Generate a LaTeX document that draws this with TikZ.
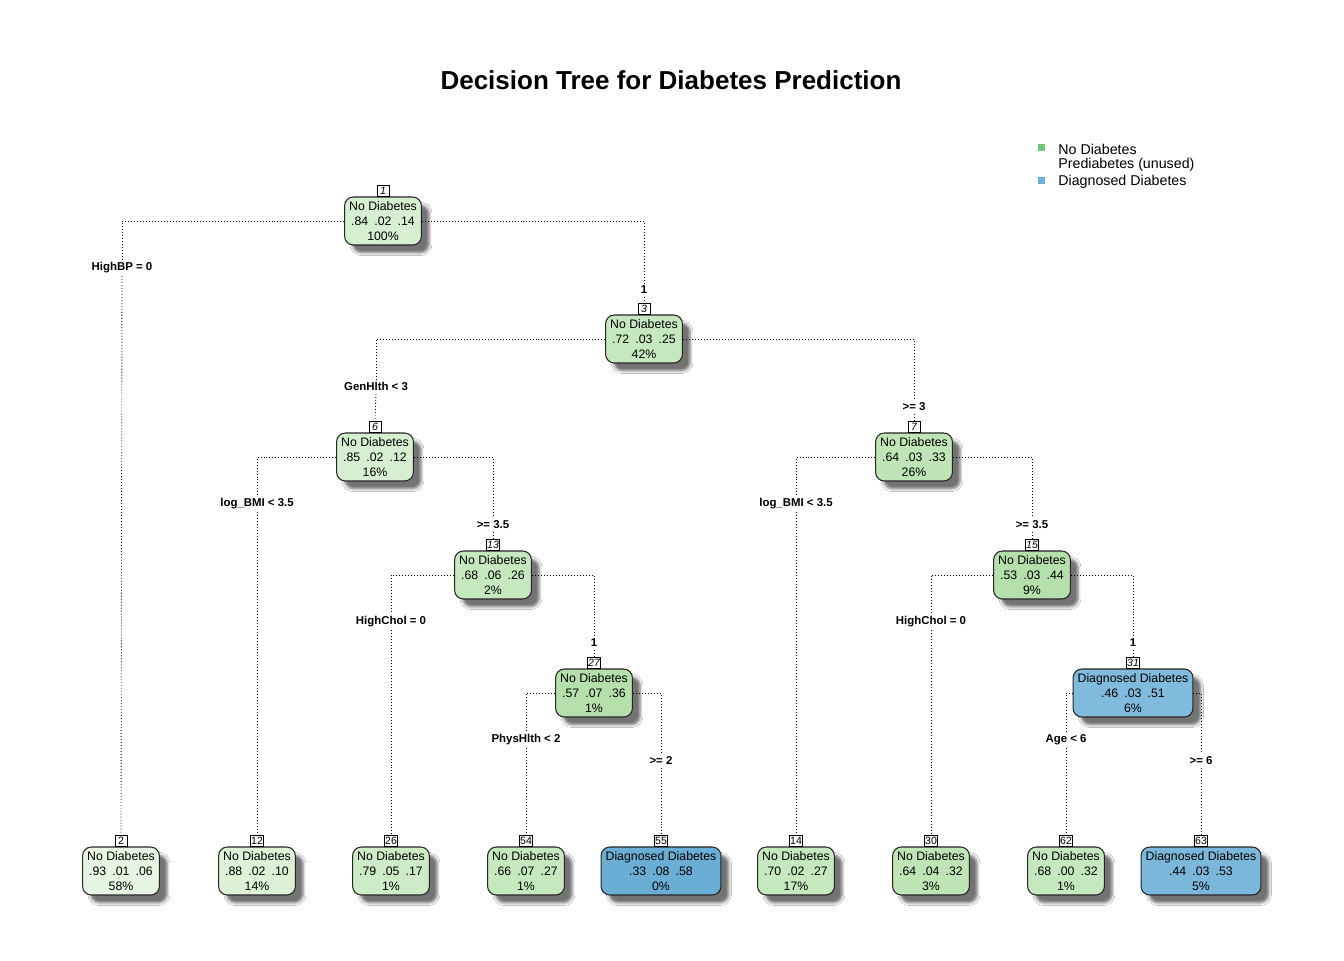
\documentclass[tikz,border=0pt]{standalone}
\usepackage{fontspec}
\setmainfont{Liberation Sans}
\usepackage{tikz}
\usetikzlibrary{positioning,shadows.blur}
\definecolor{gA}{HTML}{E6F5E1}
\definecolor{gB}{HTML}{DCF1D6}
\definecolor{gC}{HTML}{D6EFD0}
\definecolor{gD}{HTML}{CEEBC7}
\definecolor{gE}{HTML}{C6E8BE}
\definecolor{gF}{HTML}{BFE5B6}
\definecolor{gG}{HTML}{B5DFAB}
\definecolor{bA}{HTML}{6AAED6}
\definecolor{bB}{HTML}{80BADD}
\definecolor{bC}{HTML}{7BB7DB}
\definecolor{legGreen}{HTML}{74C476}
\definecolor{legBlue}{HTML}{6BAED6}
\tikzset{
  nd/.style={draw=black!85, line width=0.6pt, rounded corners=5pt, minimum height=0.96cm,
             inner xsep=2.6pt, inner ysep=1pt, align=center, font=\fontsize{7}{8.4}\selectfont,
             blur shadow={shadow xshift=4.5pt, shadow yshift=-4.5pt, shadow blur radius=1.5pt,
                          shadow opacity=55}},
  idx/.style={draw=black, fill=white, line width=0.5pt, inner sep=0.6pt, minimum width=0.24cm,
              minimum height=0.22cm, font=\fontsize{6}{6}\selectfont},
  lab/.style={inner sep=1.5pt, yshift=-1pt, font=\fontsize{6.5}{7}\selectfont\bfseries},
  edge/.style={line width=0.5pt, dash pattern=on 0.5pt off 1.2pt},
  legtxt/.style={anchor=west, inner sep=0pt, font=\fontsize{8.1}{9}\selectfont},
  legsq/.style={minimum size=0.14cm, inner sep=0pt}
}
\newcommand{\probs}[3]{#1\enspace#2\enspace#3}
\begin{document}
\begin{tikzpicture}[x=0.02cm, y=-0.02cm]
  \useasboundingbox[fill=white] (0,0) rectangle (1344,960);
  \node[font=\fontsize{14.8}{16}\selectfont\bfseries] (title) at (671,80)
    {Decision Tree for Diabetes Prediction};

  % legend
  \node[legsq, fill=legGreen] (q1) at (1041,147) {};
  \node[legsq, fill=legBlue] (q3) at (1041,180) {};
  \node[legtxt] (t1) at (1058,149) {No Diabetes};
  \node[legtxt] (t2) at (1058,165) {Prediabetes (unused)};
  \node[legtxt] (t3) at (1058,182) {Diagnosed Diabetes};

  % internal nodes
  \node[nd, fill=gC] (n1) at (383,221) {No Diabetes\\\probs{.84}{.02}{.14}\\100\%};
  \node[nd, fill=gE] (n3) at (644,339) {No Diabetes\\\probs{.72}{.03}{.25}\\42\%};
  \node[nd, fill=gC] (n6) at (375,457) {No Diabetes\\\probs{.85}{.02}{.12}\\16\%};
  \node[nd, fill=gF] (n7) at (914,457) {No Diabetes\\\probs{.64}{.03}{.33}\\26\%};
  \node[nd, fill=gE] (n13) at (493,575) {No Diabetes\\\probs{.68}{.06}{.26}\\2\%};
  \node[nd, fill=gG] (n15) at (1032,575) {No Diabetes\\\probs{.53}{.03}{.44}\\9\%};
  \node[nd, fill=gG] (n27) at (594,693) {No Diabetes\\\probs{.57}{.07}{.36}\\1\%};
  \node[nd, fill=bB] (n31) at (1133,693) {Diagnosed Diabetes\\\probs{.46}{.03}{.51}\\6\%};

  % leaves
  \node[nd, fill=gA] (n2) at (121,871) {No Diabetes\\\probs{.93}{.01}{.06}\\58\%};
  \node[nd, fill=gB] (n12) at (257,871) {No Diabetes\\\probs{.88}{.02}{.10}\\14\%};
  \node[nd, fill=gD] (n26) at (391,871) {No Diabetes\\\probs{.79}{.05}{.17}\\1\%};
  \node[nd, fill=gE] (n54) at (526,871) {No Diabetes\\\probs{.66}{.07}{.27}\\1\%};
  \node[nd, fill=bA] (n55) at (661,871) {Diagnosed Diabetes\\\probs{.33}{.08}{.58}\\0\%};
  \node[nd, fill=gE] (n14) at (796,871) {No Diabetes\\\probs{.70}{.02}{.27}\\17\%};
  \node[nd, fill=gF] (n30) at (931,871) {No Diabetes\\\probs{.64}{.04}{.32}\\3\%};
  \node[nd, fill=gE] (n62) at (1066,871) {No Diabetes\\\probs{.68}{.00}{.32}\\1\%};
  \node[nd, fill=bC] (n63) at (1201,871) {Diagnosed Diabetes\\\probs{.44}{.03}{.53}\\5\%};

  % node numbers
  \foreach \k in {1,3,6,7,13,15,27,31}
    \node[idx, above=0pt of n\k] (i\k) {\itshape\k};
  \foreach \k in {2,12,26,54,55,14,30,62,63}
    \node[idx, above=0pt of n\k] (i\k) {\k};

  % split labels
  \node[lab] (s2) at (122,266) {HighBP = 0};
  \node[lab] (s3) at (644,288) {1};
  \node[lab] (s6) at (376,385) {GenHlth < 3};
  \node[lab] (s7) at (914,405) {>= 3};
  \node[lab] (s12) at (257,502) {log\_BMI < 3.5};
  \node[lab] (s13) at (493,523) {>= 3.5};
  \node[lab] (s14) at (796,502) {log\_BMI < 3.5};
  \node[lab] (s15) at (1032,523) {>= 3.5};
  \node[lab] (s26) at (391,620) {HighChol = 0};
  \node[lab] (s27) at (594,641) {1};
  \node[lab] (s30) at (931,620) {HighChol = 0};
  \node[lab] (s31) at (1133,641) {1};
  \node[lab] (s54) at (526,738) {PhysHlth < 2};
  \node[lab] (s55) at (661,759) {>= 2};
  \node[lab] (s62) at (1066,738) {Age < 6};
  \node[lab] (s63) at (1201,759) {>= 6};

  % connectors
  \foreach \p/\l/\r in {1/2/3, 3/6/7, 6/12/13, 7/14/15, 13/26/27, 15/30/31, 27/54/55, 31/62/63} {
    \draw[edge] (n\p.west) -| (s\l.north);
    \draw[edge] (s\l.south) -- (i\l.north);
    \draw[edge] (n\p.east) -| (s\r.north);
    \draw[edge] (s\r.south) -- (i\r.north);
  }
\end{tikzpicture}
\end{document}
